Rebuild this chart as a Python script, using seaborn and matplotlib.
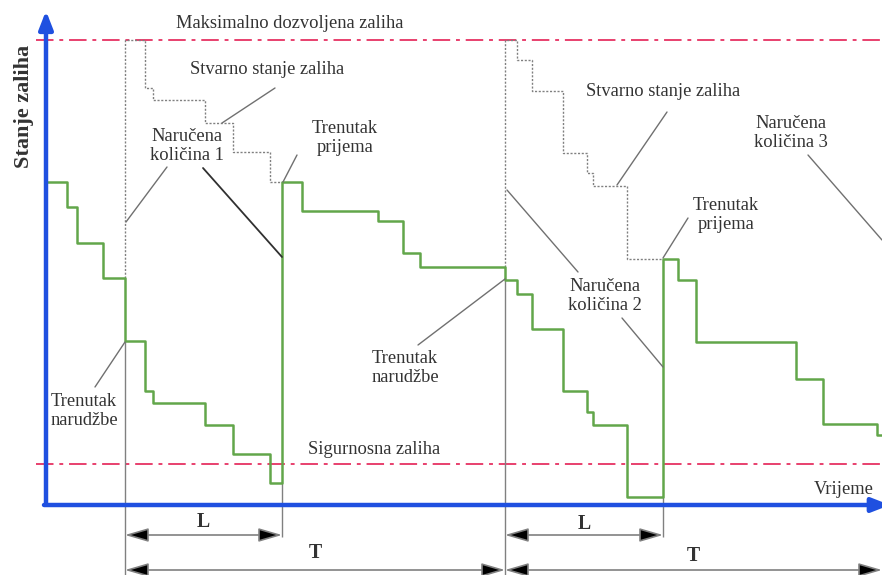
import numpy as np
import matplotlib
matplotlib.use("Agg")
import matplotlib.pyplot as plt
import seaborn as sns

# stock level over time (drawing units: time to the right, stock measured downwards)
stock_t = [47, 67, 77, 103, 125, 145, 153, 205, 233, 270, 282, 302, 378, 403, 420,
           505, 517, 532, 563, 587, 593, 627, 663, 678, 696, 796, 823, 877, 882]
stock_y = [182, 207, 243, 278, 341, 391, 403, 425, 454, 483, 182, 211, 221, 253, 267,
           280, 294, 329, 391, 412, 425, 497, 259, 280, 342, 379, 424, 435, 435]

# inventory position (actual + ordered) during lead times
pos1_t = [125, 125, 145, 153, 205, 233, 270, 282]
pos1_y = [278, 40, 88, 100, 123, 152, 182, 182]
pos2_t = [505, 505, 517, 532, 563, 587, 593, 627, 663]
pos2_y = [267, 40, 60, 91, 153, 173, 186, 259, 259]

max_stock = 40
safety_stock = 464
order_t = [125, 505]
order_y = [341, 280]
receipt_t = [282, 663]
receipt_y = [483, 497]
period_end = 882

sns.set_theme(style="white")
plt.rcParams["font.family"] = ["Liberation Serif", "DejaVu Serif"]

fig = plt.figure(figsize=(8.82, 5.75), dpi=100)
ax = fig.add_axes([0, 0, 1, 1])
ax.set_xlim(0, 882)
ax.set_ylim(575, 0)
ax.axis("off")

green = "#62a64a"
gray = "#808080"
red = "#e8406e"
blue = "#1f50e0"
txt = "#333333"
fs = 13.3

# reference levels
for lvl in (max_stock, safety_stock):
    ax.plot([36, 882], [lvl, lvl], color=red, lw=1.4, dashes=(9, 3, 2, 3))

# inventory position (dotted)
for t, y in ((pos1_t, pos1_y), (pos2_t, pos2_y)):
    sns.lineplot(x=t, y=y, ax=ax, sort=False, estimator=None, drawstyle="steps-post",
                 color=gray, lw=1, linestyle=(0, (1.5, 1.2)))

# time markers
ax.vlines(order_t[0], order_y[0], 575, color=gray, lw=1)
ax.vlines(order_t[1], order_y[1], 575, color=gray, lw=1)
for t, y in zip(receipt_t, receipt_y):
    ax.vlines(t, y, 537, color=gray, lw=1)

# stock level
sns.lineplot(x=stock_t, y=stock_y, ax=ax, sort=False, estimator=None,
             drawstyle="steps-post", color=green, lw=1.8)

# axes arrows
ax.annotate("", xy=(46, 8), xytext=(46, 506), annotation_clip=False,
            arrowprops=dict(arrowstyle="-|>,head_length=0.9,head_width=0.35", color=blue, lw=3.2))
ax.annotate("", xy=(890, 505), xytext=(44, 505), annotation_clip=False,
            arrowprops=dict(arrowstyle="-|>,head_length=0.9,head_width=0.35", color=blue, lw=3.2,
                            shrinkA=0, shrinkB=0))

# L and T dimension arrows
def dim_arrow(x0, x1, y, label, ly):
    ax.annotate("", xy=(x1, y), xytext=(x0, y), annotation_clip=False,
                arrowprops=dict(arrowstyle="<|-|>,head_length=1.2,head_width=0.35",
                                fc="black", ec=gray, lw=1.2, shrinkA=0, shrinkB=0))
    ax.text((x0 + x1) / 2, ly, label, fontsize=fs + 1, color=txt, ha="center", va="center",
            fontweight="bold")

dim_arrow(order_t[0], receipt_t[0], 535, "L", 522)
dim_arrow(order_t[1], receipt_t[1], 535, "L", 524)
dim_arrow(order_t[0], order_t[1], 570, "T", 553)
dim_arrow(order_t[1], period_end, 570, "T", 556)

# labels
def label(x, y, s, **kw):
    ax.text(x, y, s, fontsize=fs, color=txt, ha="center", va="center", linespacing=1.1, **kw)

label(290, 24, "Maksimalno dozvoljena zaliha")
label(267, 70, "Stvarno stanje zaliha")
label(663, 92, "Stvarno stanje zaliha")
label(187, 146, "Naručena\nkoličina 1")
label(345, 138, "Trenutak\nprijema")
label(84, 411, "Trenutak\nnarudžbe")
label(405, 368, "Trenutak\nnarudžbe")
label(374, 450, "Sigurnosna zaliha")
label(605, 296, "Naručena\nkoličina 2")
label(726, 215, "Trenutak\nprijema")
label(791, 133, "Naručena\nkoličina 3")
label(844, 490, "Vrijeme")
ax.text(24, 106, "Stanje zaliha", fontsize=16, color=txt, ha="center", va="center",
        rotation=90, fontweight="bold")

# pointer lines
pointers = [((275, 88), (222, 123)), ((167, 167), (126, 222)), ((297, 155), (283, 182)),
            ((95, 387), (125, 342)), ((418, 345), (505, 279)), ((667, 112), (617, 185)),
            ((688, 218), (663, 258)), ((578, 272), (507, 190)), ((622, 318), (663, 367)),
            ((808, 155), (882, 240))]
for (x0, y0), (x1, y1) in pointers:
    ax.plot([x0, x1], [y0, y1], color="#707070", lw=1)
ax.plot([203, 282], [168, 257], color="#303030", lw=1.3)

fig.savefig("out.png", dpi=100)
